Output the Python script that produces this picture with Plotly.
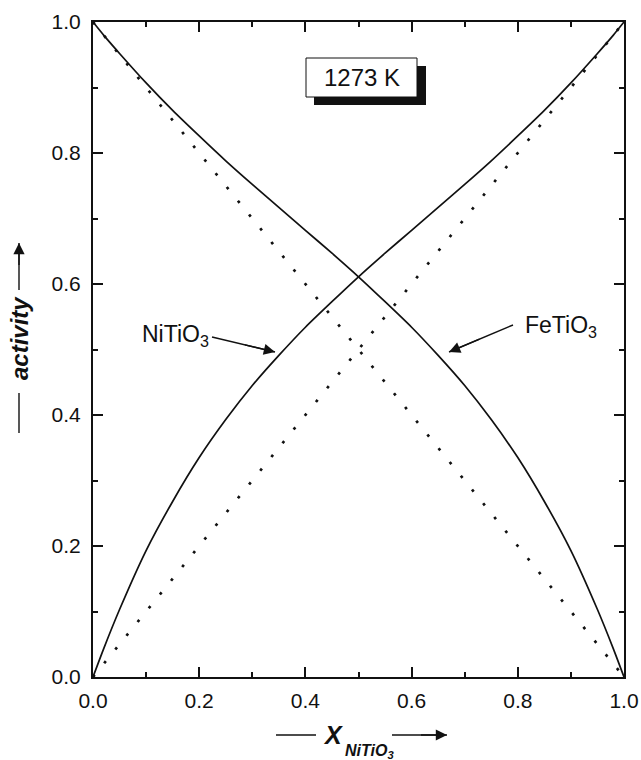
import plotly.graph_objects as go

# Mole fraction of NiTiO3 in the FeTiO3–NiTiO3 solid solution
x_niti = [0.0, 0.02, 0.05, 0.10, 0.15, 0.20, 0.25, 0.30, 0.35, 0.40, 0.45, 0.50,
          0.55, 0.60, 0.65, 0.70, 0.75, 0.80, 0.85, 0.90, 0.95, 0.98, 1.0]

# Activities at 1273 K
a_niti = [0.0, 0.043, 0.103, 0.193, 0.268, 0.335, 0.393, 0.445, 0.491, 0.534, 0.573, 0.611,
          0.647, 0.682, 0.717, 0.752, 0.788, 0.826, 0.865, 0.907, 0.952, 0.980, 1.0]
a_feti = [1.0, 0.980, 0.952, 0.907, 0.865, 0.826, 0.788, 0.752, 0.717, 0.682, 0.647, 0.611,
          0.573, 0.534, 0.491, 0.445, 0.393, 0.335, 0.268, 0.193, 0.103, 0.043, 0.0]

# Raoultian (ideal) reference lines
ideal_x = [0.0, 1.0]
ideal_niti = [0.0, 1.0]
ideal_feti = [1.0, 0.0]

tick_vals = [0.0, 0.2, 0.4, 0.6, 0.8, 1.0]

FONT = "Arial, Liberation Sans, Helvetica, sans-serif"
INK = "#111111"

# plot-area geometry in pixels (used to place decorations in paper coordinates)
W, H = 641, 760
PL, PT, PW, PH = 93, 22, 531, 655


def px(xp):
    return (xp - PL) / PW


def py(yp):
    return (PT + PH - yp) / PH


fig = go.Figure()

for yv in (ideal_niti, ideal_feti):
    fig.add_trace(go.Scatter(x=ideal_x, y=yv, mode="lines",
                             line=dict(color=INK, width=2.7, dash="2.7px,15px"),
                             showlegend=False, hoverinfo="skip"))

for yv in (a_niti, a_feti):
    fig.add_trace(go.Scatter(x=x_niti, y=yv, mode="lines",
                             line=dict(color=INK, width=1.7, shape="spline", smoothing=0.6),
                             showlegend=False, hoverinfo="skip"))

axis_common = dict(
    range=[0, 1], showgrid=False, zeroline=False, automargin=False,
    showline=True, linecolor=INK, linewidth=2, mirror="allticks",
    ticks="inside", ticklen=10, tickwidth=1.6, tickcolor=INK,
    tickvals=tick_vals, tickformat=".1f",
    minor=dict(ticks="inside", ticklen=5, tickwidth=1.6, tickcolor=INK, dtick=0.1),
    tickfont=dict(family=FONT, size=21, color=INK),
)

fig.update_layout(
    width=W, height=H,
    margin=dict(l=PL, r=W - PL - PW, t=PT, b=H - PT - PH, pad=0, autoexpand=False),
    paper_bgcolor="white", plot_bgcolor="white",
    xaxis=dict(**axis_common, ticklabelstandoff=4),
    yaxis=dict(**axis_common, ticklabelstandoff=6),
)

# pointer arrows: (tail, tip) in pixel positions
pointers = [
    ((212, 337), (275, 352)),   # NiTiO3 label -> curve
    ((513, 325), (449, 352)),   # FeTiO3 label -> curve
    ((19, 290), (19, 243)),     # y-axis title arrow
    ((392, 735), (447, 735)),   # x-axis title arrow
]

shapes = [
    # temperature label box with drop shadow
    dict(type="rect", xref="paper", yref="paper", x0=px(314), x1=px(426), y0=py(105), y1=py(66),
         fillcolor=INK, line=dict(width=0), layer="above"),
    dict(type="rect", xref="paper", yref="paper", x0=px(306), x1=px(417), y0=py(97), y1=py(58),
         fillcolor="white", line=dict(color=INK, width=1), layer="above"),
    # tail lines of the axis-title arrows
    dict(type="line", xref="paper", yref="paper", x0=px(19), x1=px(19), y0=py(393), y1=py(433),
         line=dict(color=INK, width=1.4)),
    dict(type="line", xref="paper", yref="paper", x0=px(276), x1=px(316), y0=py(735), y1=py(735),
         line=dict(color=INK, width=1.4)),
]

annotations = [
    dict(xref="paper", yref="paper", x=px(361.5), y=py(77.5), text="1273 K", showarrow=False,
         font=dict(family=FONT, size=24, color=INK), xanchor="center", yanchor="middle"),
    # species labels
    dict(xref="paper", yref="paper", x=px(140), y=py(335), text="NiTiO<sub>3</sub>", showarrow=False,
         font=dict(family=FONT, size=23, color=INK), xanchor="left", yanchor="middle"),
    dict(xref="paper", yref="paper", x=px(523), y=py(326), text="FeTiO<sub>3</sub>", showarrow=False,
         font=dict(family=FONT, size=23, color=INK), xanchor="left", yanchor="middle"),
    # y-axis title
    dict(xref="paper", yref="paper", x=px(19), y=py(338), text="<b><i>activity</i></b>", showarrow=False,
         textangle=-90, font=dict(family=FONT, size=24, color=INK), xanchor="center", yanchor="middle"),
    # x-axis title
    dict(xref="paper", yref="paper", x=px(333), y=py(735), text="<b><i>X</i></b>", showarrow=False,
         font=dict(family=FONT, size=25, color=INK), xanchor="center", yanchor="middle"),
    dict(xref="paper", yref="paper", x=px(343), y=py(751), text="<b><i>NiTiO<sub>3</sub></i></b>",
         showarrow=False, font=dict(family=FONT, size=16, color=INK), xanchor="left", yanchor="middle"),
]

for (tx, ty), (hx, hy) in pointers:
    # full shaft as a line shape, head drawn by an annotation arrow on top
    shapes.append(dict(type="line", xref="paper", yref="paper",
                       x0=px(tx), y0=py(ty), x1=px(hx), y1=py(hy),
                       line=dict(color=INK, width=1.4)))
    annotations.append(dict(xref="paper", yref="paper", x=px(hx), y=py(hy),
                            ax=(tx - hx) * 0.5, ay=(ty - hy) * 0.5,
                            showarrow=True, arrowhead=2, arrowsize=1.6, arrowwidth=1.4,
                            arrowcolor=INK, text=""))

fig.update_layout(shapes=shapes, annotations=annotations)

fig.write_html("out.html")
